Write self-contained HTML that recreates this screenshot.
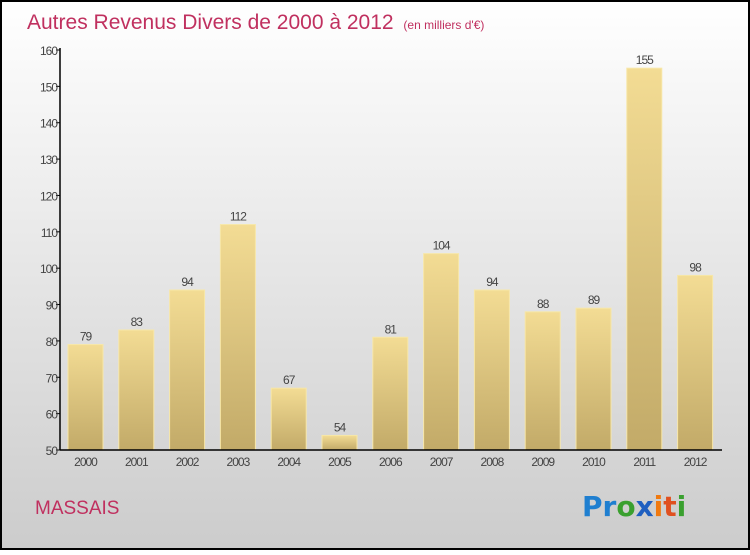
<!DOCTYPE html>
<html><head><meta charset="utf-8"><style>
body{margin:0;}
#c{width:750px;height:550px;position:relative;font-family:"Liberation Sans",sans-serif;}
</style></head><body>
<div id="c">
<svg id="s" width="750" height="550" xmlns="http://www.w3.org/2000/svg">
<defs>
<linearGradient id="bg" x1="0" y1="0" x2="0" y2="1"><stop offset="0" stop-color="#ffffff"/><stop offset="1" stop-color="#cccccc"/></linearGradient>
<linearGradient id="bar" x1="0" y1="0" x2="0" y2="1"><stop offset="0" stop-color="#f3dc94"/><stop offset="1" stop-color="#c2aa68"/></linearGradient>
</defs>
<rect x="1" y="1" width="748" height="548" fill="url(#bg)" stroke="#000" stroke-width="2"/>
<text x="27" y="29" font-size="21" fill="#c0305f">Autres Revenus Divers de 2000 à 2012 <tspan font-size="12" dx="4">(en milliers d'€)</tspan></text>
<g id="plot"></g>
<text x="35" y="514" font-size="19" fill="#c0305f">MASSAIS</text>
<text x="582" y="516" font-size="28" font-weight="bold" font-family="'DejaVu Sans',sans-serif"><tspan fill="#1f7fd0">Pr</tspan><tspan fill="#3aa02f">o</tspan><tspan fill="#1f5fc0">x</tspan><tspan fill="#f07a10">i</tspan><tspan fill="#e05020">t</tspan><tspan fill="#3aa02f">i</tspan></text>
</svg>
</div>
<script>
const years=["2000","2001","2002","2003","2004","2005","2006","2007","2008","2009","2010","2011","2012"];
const values=[79,83,94,112,67,54,81,104,94,88,89,155,98];
const yTicks=[50,60,70,80,90,100,110,120,130,140,150,160];
const ns="http://www.w3.org/2000/svg";
const g=document.getElementById('plot');
const yMin=50,yMax=160,yTop=50,yBot=450,x0=60,x1=722;
const y=v=>yBot-(v-yMin)/(yMax-yMin)*(yBot-yTop);
const step=50.8,firstC=85.5,bw=35;
const xc=i=>firstC+i*step;
function mk(t,a){const e=document.createElementNS(ns,t);for(const k in a)e.setAttribute(k,a[k]);g.appendChild(e);return e;}
yTicks.forEach(t=>{
 const l=mk('line',{x1:x0-4,x2:x0,y1:y(t),y2:y(t),stroke:'#000'});
 
 
 const tx=mk('text',{x:x0-3,y:y(t)+5,'text-anchor':'end','font-size':12,fill:'#444','letter-spacing':'-1'});
 tx.textContent=t;
 
 
});
values.forEach((v,i)=>{
 const r=mk('rect',{x:xc(i)-bw/2,y:y(v),width:bw,height:yBot-y(v),fill:'url(#bar)',stroke:'#f7e7a8','stroke-width':1});
 
 
 const vt=mk('text',{x:xc(i),y:y(v)-4,'text-anchor':'middle','font-size':12,fill:'#444','letter-spacing':'-1'});
 vt.textContent=v;
 
 
 const xt=mk('text',{x:xc(i),y:466,'text-anchor':'middle','font-size':12,fill:'#444','letter-spacing':'-1'});
 xt.textContent=years[i];
 
 
});
const ya=mk('line',{x1:x0,x2:x0,y1:yTop-2,y2:yBot,stroke:'#000','stroke-width':1.5});


const xa=mk('line',{x1:x0,x2:x1,y1:yBot,y2:yBot,stroke:'#000','stroke-width':1.5});


</script>
</body></html>
